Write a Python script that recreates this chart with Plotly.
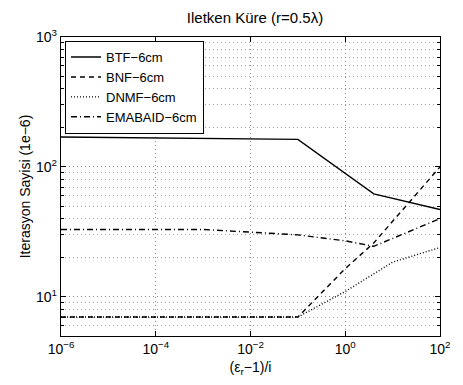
import plotly.graph_objects as go

# Data
x_btf = [1e-6, 1e-3, 0.1, 4, 100]
y_btf = [170, 167, 163, 62, 47]

x_bnf = [1e-6, 1e-3, 0.1, 1, 4, 100]
y_bnf = [7, 7, 7, 16.5, 26, 100]

x_dnmf = [1e-6, 1e-3, 0.1, 1, 4, 10, 100]
y_dnmf = [7, 7, 7, 11, 15, 18.5, 24]

x_ema = [1e-6, 1e-3, 1e-2, 0.1, 1, 4, 100]
y_ema = [33, 33, 31.5, 30, 27, 24.5, 40]

names = ["BTF−6cm", "BNF−6cm", "DNMF−6cm", "EMABAID−6cm"]
dashes = ["solid", "5px,4px", "1px,2px", "6px,3px,1px,3px"]

x_tickvals = [1e-6, 1e-4, 1e-2, 1, 100]
x_ticktext = ["10<sup>−6</sup>", "10<sup>−4</sup>", "10<sup>−2</sup>", "10<sup>0</sup>", "10<sup>2</sup>"]
y_tickvals = [10, 100, 1000]
y_ticktext = ["10<sup>1</sup>", "10<sup>2</sup>", "10<sup>3</sup>"]
y_minor = [m * 10 ** e for e in range(0, 3) for m in range(2, 10) if m * 10 ** e >= 5]

fig = go.Figure()
for xs, ys, nm, ds in zip([x_btf, x_bnf, x_dnmf, x_ema], [y_btf, y_bnf, y_dnmf, y_ema], names, dashes):
    fig.add_trace(go.Scatter(x=xs, y=ys, mode="lines", name=nm,
                             line=dict(color="black", width=1.4, dash=ds)))

font = "Liberation Sans, Arial, Helvetica, sans-serif"
grid_dash = "1px,3px"
fig.update_layout(
    width=463, height=385,
    margin=dict(l=61, r=14, t=37, b=46),
    paper_bgcolor="white", plot_bgcolor="white",
    font=dict(family=font, size=14, color="black"),
    title=dict(text="Iletken Küre (r=0.5λ)", x=(61 + 449) / 2 / 463, xanchor="center",
               y=1 - 18 / 385, yanchor="middle", font=dict(size=15)),
    legend=dict(x=0.01, y=0.987, xanchor="left", yanchor="top",
                bordercolor="black", borderwidth=1.2, bgcolor="white",
                font=dict(size=13), tracegroupgap=0, entrywidth=124),
    showlegend=True,
)
fig.update_xaxes(
    type="log", range=[-6, 2],
    tickvals=x_tickvals, ticktext=x_ticktext,
    ticks="inside", ticklen=5, tickcolor="black",
    showline=True, linecolor="black", linewidth=1.3, mirror="allticks",
    showgrid=True, gridcolor="#8c8c8c", griddash=grid_dash, gridwidth=1,
    zeroline=False, tickfont=dict(size=14),
    title=dict(text="(ε<sub>r</sub>−1)/i", standoff=6, font=dict(size=14)),
)
fig.update_yaxes(
    type="log", range=[0.69897, 3],
    tickvals=y_tickvals, ticktext=y_ticktext,
    ticks="inside", ticklen=5, tickcolor="black",
    showline=True, linecolor="black", linewidth=1.3, mirror="allticks",
    showgrid=True, gridcolor="#8c8c8c", griddash=grid_dash, gridwidth=1,
    zeroline=False, tickfont=dict(size=14),
    minor=dict(tickvals=y_minor, ticks="inside", ticklen=3, tickcolor="black",
               showgrid=True, gridcolor="#a0a0a0", griddash=grid_dash, gridwidth=1),
    title=dict(text="Iterasyon Sayisi (1e−6)", standoff=2, font=dict(size=14)),
)

fig.write_html("out.html")
